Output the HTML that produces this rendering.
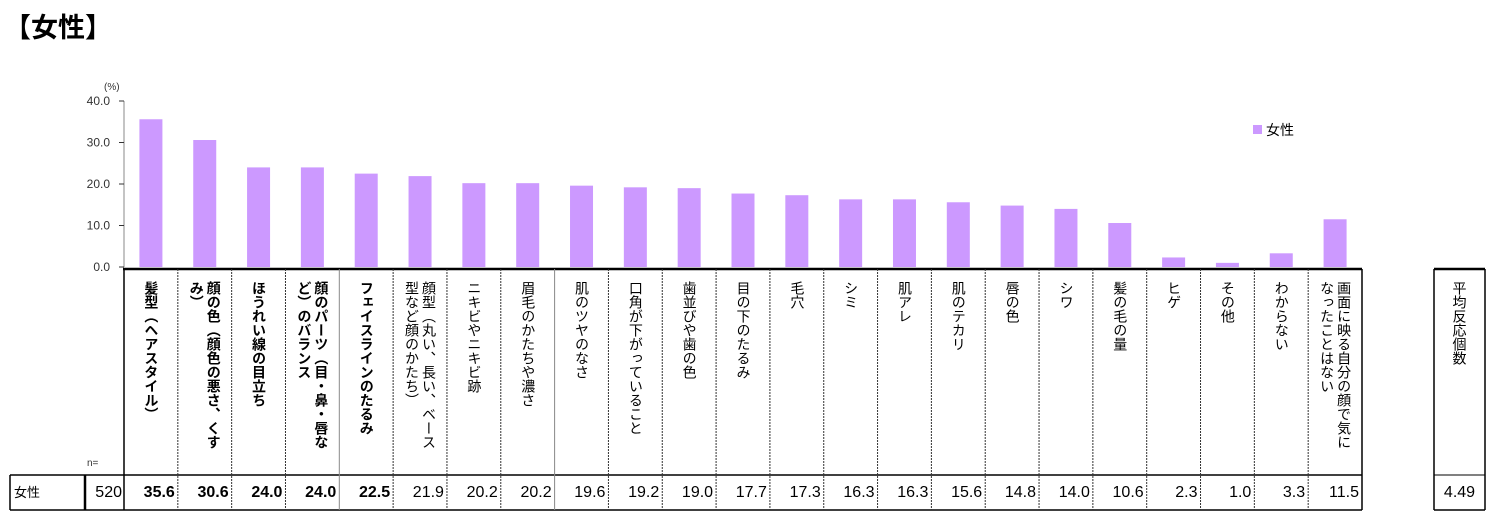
<!DOCTYPE html>
<html><head><meta charset="utf-8">
<style>
body{margin:0;width:1498px;height:528px;background:#fff;overflow:hidden;font-family:"Liberation Sans","Noto Sans CJK JP",sans-serif;position:relative;color:#000}
.abs{position:absolute}
.lbl{position:absolute;top:281px;height:180px;display:flex;justify-content:center;align-items:flex-start}
.lbl .in{writing-mode:vertical-rl;height:175px;font-size:14px;line-height:17px}
.val{position:absolute;top:476px;height:34px;line-height:34px;font-size:16px;text-align:right}
</style></head><body>
<div class="abs" style="left:4px;top:6px;font-size:27px;font-weight:bold;">【女性】</div>
<svg id="chart" class="abs" style="left:0;top:0" width="1498" height="528"></svg>
<div id="tbl"></div>
<script>
const categories=["髪型（ヘアスタイル）","顔の色（顔色の悪さ、くすみ）","ほうれい線の目立ち","顔のパーツ（目・鼻・唇など）のバランス","フェイスラインのたるみ","顔型（丸い、長い、ベース型など顔のかたち）","ニキビやニキビ跡","眉毛のかたちや濃さ","肌のツヤのなさ","口角が下がっていること","歯並びや歯の色","目の下のたるみ","毛穴","シミ","肌アレ","肌のテカリ","唇の色","シワ","髪の毛の量","ヒゲ","その他","わからない","画面に映る自分の顔で気になったことはない"];
const values=[35.6,30.6,24.0,24.0,22.5,21.9,20.2,20.2,19.6,19.2,19.0,17.7,17.3,16.3,16.3,15.6,14.8,14.0,10.6,2.3,1.0,3.3,11.5];
const yTicks=[0,10,20,30,40];
const svg=document.getElementById('chart'),NS="http://www.w3.org/2000/svg";
const x0=124,y0=267,yTop=101,yMax=40;
const colWidth=(1362-124)/categories.length;
function xCol(i){return x0+i*colWidth;}
function yS(v){return y0-(v/yMax)*(y0-yTop);}
function mk(t,a){const e=document.createElementNS(NS,t);for(const k in a)e.setAttribute(k,a[k]);svg.appendChild(e);return e;}
let ax=mk('line',{x1:x0,y1:yTop,x2:x0,y2:y0,stroke:'#888','stroke-width':1});

yTicks.forEach(t=>{
  const y=yS(t);
  let l=mk('line',{x1:x0-5,y1:y,x2:x0,y2:y,stroke:'#333'});
  
  let tx=mk('text',{x:x0-14,y:y+4,'text-anchor':'end','font-size':12,fill:'#333','font-family':'Liberation Sans, sans-serif'});
  tx.textContent=t.toFixed(1);
  
});
let u=mk('text',{x:104,y:90,'font-size':10,fill:'#333','font-family':'Liberation Sans, sans-serif'});u.textContent='(%)';

values.forEach((v,i)=>{
  const cx=xCol(i)+colWidth/2;
  let r=mk('rect',{x:cx-11.5,y:yS(v),width:23,height:y0-yS(v),fill:'#cc99ff'});
  
});
let ls=mk('rect',{x:1253,y:125,width:9,height:9,fill:'#cc99ff'});

let lt=mk('text',{x:1266,y:135,'font-size':14,'font-family':'Liberation Sans, Noto Sans CJK JP, sans-serif'});lt.textContent='女性';

function line(x1,y1,x2,y2,s,w,d){let e=mk('line',{x1,y1,x2,y2,stroke:s,'stroke-width':w});if(d)e.setAttribute('stroke-dasharray',d);}
line(x0-1,269,1362,269,'#000',2.5);
line(10,475,1362,475,'#000',1.5);
line(10,510,1362,510,'#000',1.5);
line(10,475,10,510,'#000',1.5);
line(85,475,85,510,'#000',2.5);
line(x0,269,x0,510,'#000',1.5);
line(1362,269,1362,510,'#000',1.5);
for(let i=1;i<categories.length;i++){
  const x=xCol(i);
  if(i==4||i==8)line(x,269,x,510,'#888',1);else line(x,269,x,510,'#333',1,'2,1');
}
line(1434,269,1485,269,'#000',2.5);line(1434,269,1434,510,'#000',1.5);line(1485,269,1485,510,'#000',1.5);
line(1434,475,1485,475,'#000',1);line(1434,510,1485,510,'#000',1.5);
const tbl=document.getElementById('tbl');
categories.forEach((c,i)=>{
  const d=document.createElement('div');d.className='lbl';
  d.style.left=(xCol(i)+2)+'px';d.style.width=(colWidth-4)+'px';
  
  
  const s=document.createElement('div');s.className='in';
  if(i<5)s.style.fontWeight='bold';
  s.textContent=c;
  d.appendChild(s);
  tbl.appendChild(d);
  const v=document.createElement('div');v.className='val';
  v.style.left=xCol(i)+'px';v.style.width=(colWidth-3)+'px';
  if(i<5)v.style.fontWeight='bold';
  v.textContent=values[i].toFixed(1);
  
  
  tbl.appendChild(v);
});
</script>
<div class="abs" style="left:14px;top:476px;line-height:34px;font-size:13px;">女性</div>
<div class="abs" style="left:87px;top:458px;font-size:10px;color:#333;">n=</div>
<div class="val" style="left:86px;width:36px;">520</div>
<div class="lbl" style="left:1436px;width:46px;"><div class="in">平均反応個数</div></div>
<div class="val" style="left:1434px;width:51px;text-align:center;">4.49</div>
</body></html>
